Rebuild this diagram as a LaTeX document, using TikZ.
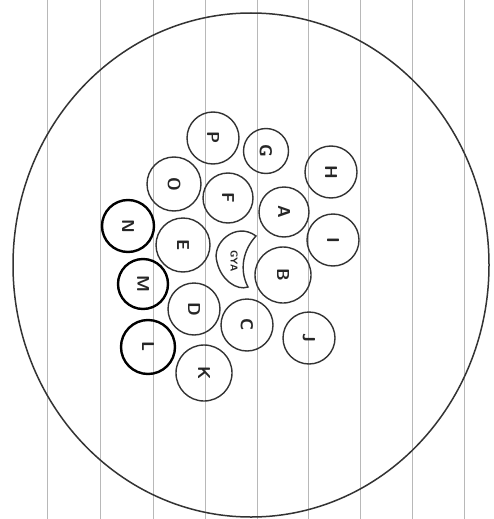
\documentclass[tikz,border=0pt]{standalone}
\begin{document}
\begin{tikzpicture}[x=1pt,y=-1pt,
  rule/.style={draw=black!28,line width=0.7pt},
  big/.style={draw=black!80,line width=1.5pt},
  bub/.style={circle,draw=black!80,line width=1.4pt,inner sep=0pt,font=\sffamily\bfseries\LARGE,rotate=-90,text=black!85},
  dark/.style={bub,draw=black,line width=2.4pt}]
\useasboundingbox[fill=white] (0,0) rectangle (493,519);
\foreach \xx in {47,100,153,205,257,308,360,412,464}
  \draw[rule] (\xx,0) -- (\xx,519);
\draw[big] (251,265) ellipse [x radius=238pt, y radius=252pt];
\node[bub,minimum size=52pt] (P) at (213,138) {P};
\node[bub,minimum size=45pt] (G) at (266,151) {G};
\node[bub,minimum size=52pt] (H) at (331,172) {H};
\node[bub,minimum size=54pt] (O) at (174,184) {O};
\node[bub,minimum size=50pt] (F) at (228,198) {F};
\node[bub,minimum size=50pt] (A) at (284,212) {A};
\node[bub,minimum size=52pt] (I) at (333,240) {I};
\node[dark,minimum size=52pt] (N) at (128,226) {N};
\node[bub,minimum size=54pt] (E) at (183,245) {E};
\node[bub,minimum size=56pt] (B) at (283,275) {B};
\node[dark,minimum size=50pt] (M) at (143,284) {M};
\node[bub,minimum size=52pt] (D) at (194,309) {D};
\node[bub,minimum size=52pt] (C) at (247,325) {C};
\node[bub,minimum size=52pt] (J) at (309,338) {J};
\node[dark,minimum size=54pt] (L) at (148,347) {L};
\node[bub,minimum size=56pt] (K) at (204,373) {K};
\draw[draw=black!80,line width=1.4pt] (256,236) .. controls (236,221) and (211,243) .. (217,262)
  .. controls (221,280) and (237,291) .. (248,287)
  .. controls (239,270) and (243,250) .. (256,236) -- cycle;
\node[rotate=-90,font=\sffamily\bfseries\normalsize,inner sep=0pt,text=black!85] (GYA) at (234,261) {GYA};
\end{tikzpicture}
\end{document}
